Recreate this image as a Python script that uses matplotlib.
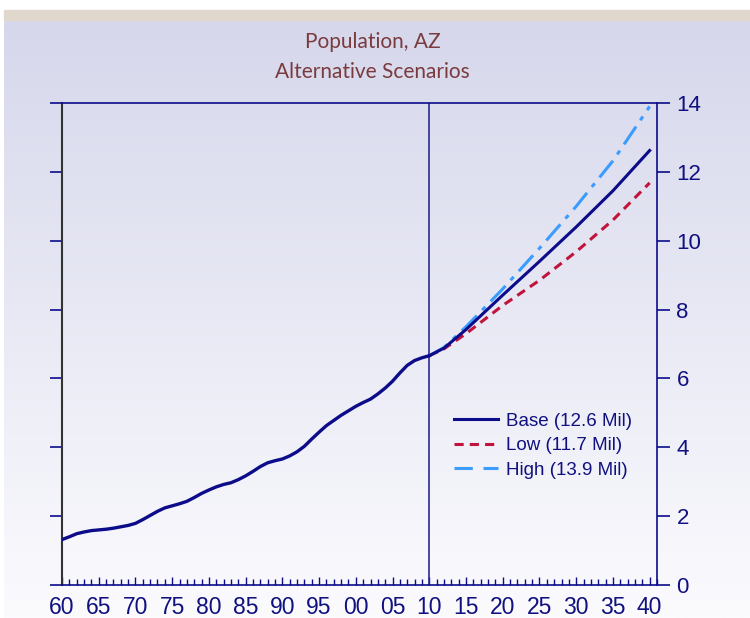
import matplotlib
matplotlib.use('Agg')
import matplotlib.pyplot as plt
from matplotlib.colors import LinearSegmentedColormap
from matplotlib.patches import Rectangle
from matplotlib.lines import Line2D
import numpy as np

# history 1960-2010, millions
hist_years = list(range(1960, 2011))
hist_pop = [1.32, 1.40, 1.49, 1.54, 1.58, 1.60, 1.62, 1.65, 1.69, 1.73,
            1.79, 1.90, 2.02, 2.14, 2.24, 2.30, 2.36, 2.43, 2.54, 2.66,
            2.76, 2.85, 2.92, 2.97, 3.06, 3.17, 3.30, 3.44, 3.55, 3.61,
            3.66, 3.75, 3.87, 4.03, 4.24, 4.44, 4.63, 4.78, 4.93, 5.06,
            5.19, 5.30, 5.40, 5.55, 5.72, 5.92, 6.16, 6.38, 6.52, 6.60,
            6.66]

# scenarios 2010-2040
fc_years = [2010, 2012, 2015, 2020, 2025, 2030, 2035, 2040]
base = [6.66, 6.88, 7.42, 8.42, 9.40, 10.40, 11.45, 12.62]
low = [6.66, 6.86, 7.30, 8.12, 8.85, 9.68, 10.60, 11.68]
high = [6.66, 6.90, 7.50, 8.60, 9.78, 11.00, 12.32, 13.90]

labels = ['Base (12.6 Mil)', 'Low (11.7 Mil)', 'High (13.9 Mil)']

navy = '#0c0c8a'
txt = '#101080'
red = '#c0143c'
sky = '#3a9cff'

fig = plt.figure(figsize=(7.5, 6.18), dpi=100)
W, H = 750, 618

# background gradient panel
bg = fig.add_axes([4 / W, 0, 1 - 4 / W, (H - 20) / H])
cmap = LinearSegmentedColormap.from_list('bg', ['#fbfbfe', '#d6d7eb'])
grad = np.linspace(0, 1, 256).reshape(-1, 1)
bg.imshow(grad, cmap=cmap, aspect='auto', origin='lower', extent=[0, 1, 0, 1])
bg.set_axis_off()
fig.patches.append(Rectangle((4 / W, (H - 20) / H), 1, 10 / H,
                             transform=fig.transFigure, color='#e0d8cc', zorder=0))

fig.text(0.497, (H - 42) / H, 'Population, AZ', ha='center', va='center',
         fontsize=15, color='#7a3b3f', family=['Lato', 'DejaVu Sans'])
fig.text(0.497, (H - 72) / H, 'Alternative Scenarios', ha='center', va='center',
         fontsize=15, color='#7a3b3f', family=['Lato', 'DejaVu Sans'])

ax = fig.add_axes([62 / W, 33 / H, (657 - 62) / W, (585 - 103) / H])
ax.patch.set_alpha(0)

ax.plot(hist_years, hist_pop, color=navy, lw=2.4, zorder=5)
ax.plot(fc_years, base, color=navy, lw=2.2, zorder=4)
ax.plot(fc_years, low, color=red, lw=2.2, dashes=(3, 2), zorder=3)
ax.plot(fc_years, high, color=sky, lw=2.2, dashes=(7, 2.5, 1.5, 2.5), zorder=3)

ax.axvline(2010, color='#2a2a90', lw=1.2, zorder=2)

ax.set_xlim(1960, 2041)
ax.set_ylim(0, 14)

ax.set_xticks(range(1960, 2041, 5))
ax.set_xticklabels([f'{y % 100:02d}' for y in range(1960, 2041, 5)])
ax.set_xticks(range(1960, 2042), minor=True)
ax.tick_params(axis='x', which='both', direction='in', color=navy,
               labelsize=16.5, labelcolor=txt, pad=8)
ax.tick_params(axis='x', which='major', length=6, width=1)
ax.tick_params(axis='x', which='minor', length=4, width=1)

ax.set_yticks(range(0, 15, 2))
ax.tick_params(axis='y', which='major', direction='out', left=True, right=True,
               labelleft=False, labelright=True, length=9, width=1.2,
               color=navy, labelsize=16, labelcolor=txt, pad=5)

for side in ['top', 'right', 'bottom']:
    ax.spines[side].set_color(navy)
    ax.spines[side].set_linewidth(1.2)
ax.spines['left'].set_color('#333333')
ax.spines['left'].set_linewidth(1.5)

for lab in ax.get_xticklabels() + ax.get_yticklabels():
    lab.set_family(['Liberation Sans', 'DejaVu Sans'])

handles = [
    Line2D([0], [0], color=navy, lw=2.2),
    Line2D([0], [0], color=red, lw=2.2, dashes=(3, 2)),
    Line2D([0], [0], color=sky, lw=2.2, dashes=(6, 3.5)),
]
leg = ax.legend(handles, labels, loc='upper left', bbox_to_anchor=(0.643, 0.377),
                frameon=False, handlelength=2.35, handletextpad=0.4, labelspacing=0.4,
                borderpad=0, prop={'family': ['Liberation Sans', 'DejaVu Sans'], 'size': 13.5})
for t in leg.get_texts():
    t.set_color(txt)

fig.savefig('out.png', dpi=100)
